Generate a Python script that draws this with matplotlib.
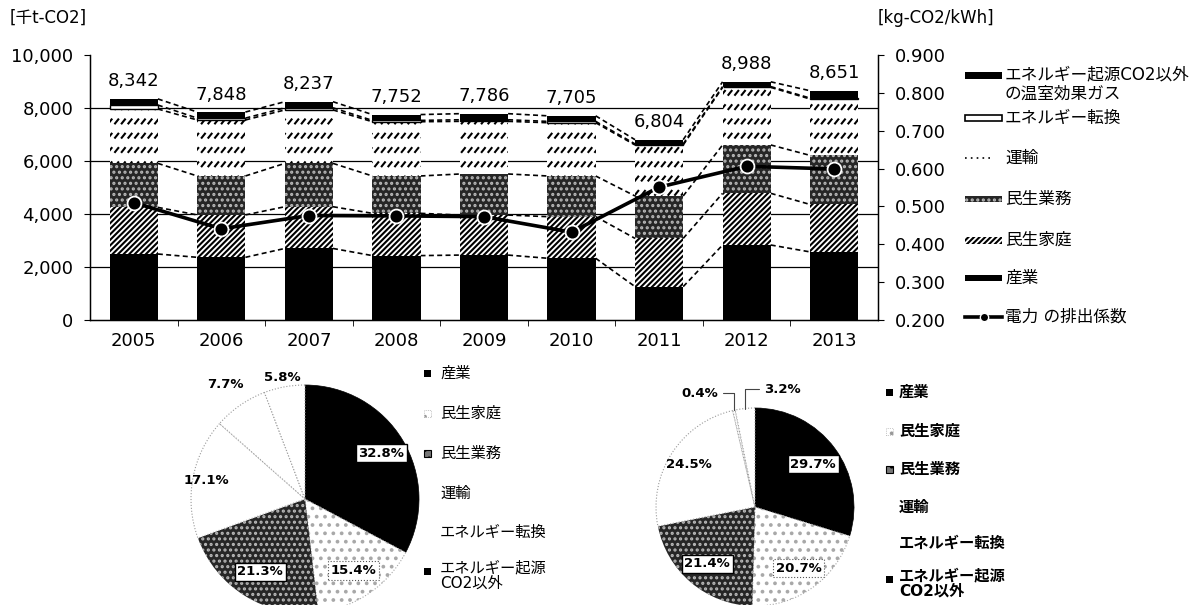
import numpy as np
import matplotlib
matplotlib.use('Agg')
import matplotlib.pyplot as plt
import matplotlib.hatch as mhatch
from matplotlib.path import Path
from matplotlib.patches import Rectangle
from matplotlib.lines import Line2D

plt.rcParams['font.family'] = ['DejaVu Sans', 'Noto Sans CJK JP']
plt.rcParams['hatch.linewidth'] = 1.5

# ---------------- data ----------------
years = ['2005', '2006', '2007', '2008', '2009', '2010', '2011', '2012', '2013']
industry = [2490, 2365, 2700, 2430, 2450, 2330, 1260, 2830, 2569]        # 産業
household = [1760, 1600, 1575, 1595, 1510, 1570, 1820, 1950, 1791]       # 民生家庭
business = [1660, 1470, 1635, 1410, 1550, 1535, 1600, 1825, 1851]        # 民生業務
transport = [2052, 2113, 2017, 2047, 1986, 2010, 1924, 2173, 2128]       # 運輸
energy_conv = [150, 70, 80, 50, 60, 50, 40, 30, 35]                      # エネルギー転換
non_energy = [230, 230, 230, 220, 230, 210, 160, 180, 277]               # CO2以外
totals = [8342, 7848, 8237, 7752, 7786, 7705, 6804, 8988, 8651]
emission_factor = [0.510, 0.441, 0.476, 0.475, 0.473, 0.432, 0.551, 0.606, 0.599]

series_names = ['産業', '民生家庭', '民生業務', '運輸', 'エネルギー転換',
                'エネルギー起源CO2以外\nの温室効果ガス']
line_name = '電力 の排出係数'
y_ticks = [0, 2000, 4000, 6000, 8000, 10000]
y2_ticks = [0.2, 0.3, 0.4, 0.5, 0.6, 0.7, 0.8, 0.9]
left_unit = '[千t-CO2]'
right_unit = '[kg-CO2/kWh]'

pie_names = ['産業', '民生家庭', '民生業務', '運輸', 'エネルギー転換', 'エネルギー起源\nCO2以外']
pie_left = [32.8, 15.4, 21.3, 17.1, 7.7, 5.8]
pie_right = [29.7, 20.7, 21.4, 24.5, 0.4, 3.2]


# ------------- custom hatch: rows of short slashes (for 運輸) -------------
class RowSlashes(mhatch.HatchPatternBase):
    def __init__(self, hatch, density):
        n = hatch.count('*')
        self.rows = 7 * n
        self.cols = 15
        self.num_vertices = self.rows * self.cols * 2

    def set_vertices_and_codes(self, vertices, codes):
        ys = (np.arange(self.rows) + 0.5) / self.rows
        xs = (np.arange(self.cols) + 0.5) / self.cols
        X, Y = np.meshgrid(xs, ys)
        X = X.ravel()
        Y = Y.ravel()
        vertices[0::2, 0] = X - 0.016
        vertices[0::2, 1] = Y - 0.02
        vertices[1::2, 0] = X + 0.016
        vertices[1::2, 1] = Y + 0.02
        codes[0::2] = Path.MOVETO
        codes[1::2] = Path.LINETO


try:
    idx = mhatch._hatch_types.index(mhatch.Stars)
    mhatch._hatch_types[idx] = RowSlashes
    TRANSPORT_HATCH = '*'
except Exception:
    TRANSPORT_HATCH = '/'

W, H = 1200, 605


def fx(p):
    return p / W


def fy(p):
    return 1 - p / H


fig = plt.figure(figsize=(12, 6.05), dpi=100)

# ---------------- bar chart ----------------
ax = fig.add_axes([fx(90), fy(320), fx(878) - fx(90), fy(55) - fy(320)])
x = np.arange(len(years))
w = 0.55

SPECKLE = dict(facecolor='#262626', edgecolor='#b8b8b8', hatch='...')
styles = [
    dict(facecolor='black', edgecolor='black', linewidth=0),
    dict(facecolor='white', edgecolor='black', hatch='//////', linewidth=0),
    dict(linewidth=0, **SPECKLE),
    dict(facecolor='white', edgecolor='black', hatch=TRANSPORT_HATCH, linewidth=0),
    dict(facecolor='white', edgecolor='black', linewidth=1.0),
    dict(facecolor='black', edgecolor='black', linewidth=0),
]
layers = [industry, household, business, transport, energy_conv, non_energy]

for v in y_ticks[1:-1]:
    ax.axhline(v, color='black', lw=0.9, zorder=1)

bottom = np.zeros(len(years))
tops = []
for vals, st in zip(layers, styles):
    ax.bar(x, vals, w, bottom=bottom, zorder=3, **st)
    bottom = bottom + np.array(vals)
    tops.append(bottom.copy())

for top in tops:
    for i in range(len(x) - 1):
        ax.plot([x[i] + w / 2, x[i + 1] - w / 2], [top[i], top[i + 1]],
                color='black', lw=1.2, ls=(0, (3, 2)), zorder=2)

for xi, t in zip(x, totals):
    ax.annotate(f'{t:,}', (xi, t), xytext=(0, 9), textcoords='offset points',
                ha='center', va='baseline', fontsize=13)

ax.set_xlim(-0.5, len(years) - 0.5)
ax.set_ylim(0, 10000)
ax.set_yticks(y_ticks)
ax.set_yticklabels([f'{v:,}' for v in y_ticks], fontsize=13)
ax.set_xticks(x)
ax.set_xticklabels(years, fontsize=13)
ax.set_xticks(x[:-1] + 0.5, minor=True)
ax.tick_params(axis='x', which='major', length=0, pad=9)
ax.tick_params(axis='x', which='minor', length=4, direction='out')
ax.tick_params(axis='y', length=4, direction='out', pad=8)
ax.spines['top'].set_visible(False)
for s in ['left', 'right', 'bottom']:
    ax.spines[s].set_linewidth(1.0)

ax2 = ax.twinx()
ax2.set_ylim(0.2, 0.9)
ax2.set_yticks(y2_ticks)
ax2.set_yticklabels([f'{v:.3f}' for v in y2_ticks], fontsize=13)
ax2.tick_params(axis='y', length=4, direction='out', pad=8)
ax2.spines['top'].set_visible(False)
ax2.plot(x, emission_factor, color='black', lw=2.6, marker='o', ms=10,
         mfc='black', mec='white', mew=1.3, zorder=5)

fig.text(fx(10), fy(18), left_unit, fontsize=12, va='center', ha='left')
fig.text(fx(878), fy(18), right_unit, fontsize=12, va='center', ha='left')

# ---------------- legend (right) ----------------
lx0, lx1, ltx = 965, 1002, 1005
legend_rows = [75, 118, 158, 199, 240, 278, 317]


def leg_rect(yc, h, **kw):
    r = Rectangle((fx(lx0), fy(yc + h / 2)), fx(lx1) - fx(lx0), fy(yc - h / 2) - fy(yc + h / 2),
                  transform=fig.transFigure, **kw)
    fig.add_artist(r)


for row, si in zip(legend_rows[:6], [5, 4, 3, 2, 1, 0]):
    if si == 3:
        fig.add_artist(Line2D([fx(lx0), fx(lx1 - 8)], [fy(row), fy(row)], color='black',
                              lw=1.2, ls=(0, (1, 2.5)), transform=fig.transFigure))
    elif si == 4:
        leg_rect(row, 6, facecolor='white', edgecolor='black', linewidth=1.2)
    elif si == 1:
        leg_rect(row, 7, facecolor='white', edgecolor='black', hatch='//////', linewidth=0)
    elif si == 2:
        leg_rect(row, 6, linewidth=0, **SPECKLE)
    else:
        leg_rect(row, 7, facecolor='black', edgecolor='black', linewidth=0)
    name = series_names[si]
    if '\n' in name:
        fig.text(fx(ltx), fy(row - 10), name, fontsize=12, va='top', ha='left', linespacing=1.15)
    else:
        fig.text(fx(ltx), fy(row), name, fontsize=12, va='center', ha='left')

yl = legend_rows[6]
fig.add_artist(Line2D([fx(lx0), fx(lx1)], [fy(yl), fy(yl)], color='black', lw=2.6,
                      transform=fig.transFigure))
fig.add_artist(Line2D([fx((lx0 + lx1) / 2)], [fy(yl)], color='black', marker='o', ms=6,
                      mfc='black', mec='white', mew=1.0, transform=fig.transFigure))
fig.text(fx(ltx), fy(yl), line_name, fontsize=12, va='center', ha='left')

# ---------------- pies ----------------
pie_styles = [
    dict(facecolor='black', edgecolor='black', linewidth=0.5),
    dict(facecolor='white', edgecolor='#a8a8a8', hatch='..', linewidth=0.8, linestyle=':'),
    dict(linewidth=0, **SPECKLE),
    dict(facecolor='white', edgecolor='#9a9a9a', linewidth=0.8, linestyle=':'),
    dict(facecolor='white', edgecolor='#9a9a9a', linewidth=0.8, linestyle=':'),
    dict(facecolor='white', edgecolor='#9a9a9a', linewidth=0.8, linestyle=':'),
]


def draw_pie(cx, cy, r, values, label_r, boxes, leaders):
    pax = fig.add_axes([fx(cx - r), fy(cy + r), fx(2 * r), fy(cy - r) - fy(cy + r)])
    wedges, _ = pax.pie(values, startangle=90, counterclock=False, radius=1.0)
    pax.set_xlim(-1, 1)
    pax.set_ylim(-1, 1)
    pax.axis('off')
    for wd, st in zip(wedges, pie_styles):
        wd.set(**st)
    for k, (wd, v) in enumerate(zip(wedges, values)):
        mid = np.deg2rad((wd.theta1 + wd.theta2) / 2)
        txt = f'{v:.1f}%'
        if leaders[k] is not None:
            pax.annotate(txt, (np.cos(mid), np.sin(mid)), xytext=leaders[k], textcoords='data',
                         ha='center', va='center', fontsize=9.5, fontweight='bold',
                         arrowprops=dict(arrowstyle='-', color='#444', lw=0.8,
                                         connectionstyle='angle,angleA=0,angleB=90,rad=0',
                                         shrinkA=2, shrinkB=0))
            continue
        rr = label_r[k]
        bb = None
        if boxes[k] == 'solid':
            bb = dict(boxstyle='square,pad=0.2', fc='white', ec='black', lw=1.0)
        elif boxes[k] == 'dotted':
            bb = dict(boxstyle='square,pad=0.2', fc='white', ec='#555', lw=0.8, ls=':')
        pax.text(rr * np.cos(mid), rr * np.sin(mid), txt, ha='center', va='center',
                 fontsize=9.5, fontweight='bold', bbox=bb)
    return pax


draw_pie(305, 499, 114, pie_left,
         [0.78, 0.76, 0.75, 0.88, 1.22, 1.08],
         ['solid', 'dotted', 'solid', None, None, None],
         [None] * 6)
draw_pie(755, 507, 99, pie_right,
         [0.73, 0.76, 0.75, 0.79, 1.1, 1.1],
         ['solid', 'dotted', 'solid', None, None, None],
         [None, None, None, None, (-0.56, 1.15), (0.28, 1.19)])

marker_styles = [
    dict(facecolor='black', edgecolor='black', linewidth=0),
    dict(facecolor='white', edgecolor='#999999', hatch='..', linewidth=0.5, linestyle=':'),
    dict(facecolor='#777777', edgecolor='black', hatch='..', linewidth=0.8),
    None,
    None,
    dict(facecolor='black', edgecolor='black', linewidth=0),
]


def pie_legend(mx, tx, rows, weight):
    for k, (row, name) in enumerate(zip(rows, pie_names)):
        ms = marker_styles[k]
        if ms is not None:
            s = 7
            fig.add_artist(Rectangle((fx(mx - s / 2), fy(row + s / 2)), fx(s), fy(0) - fy(s),
                                     transform=fig.transFigure, **ms))
        if '\n' in name:
            fig.text(fx(tx), fy(row - 11), name, fontsize=11, va='top', ha='left',
                     linespacing=1.05, fontweight=weight)
        else:
            fig.text(fx(tx), fy(row), name, fontsize=11, va='center', ha='left',
                     fontweight=weight)


pie_legend(427, 440, [373, 413, 453, 493, 532, 571], 'normal')
pie_legend(889, 899, [392, 431, 469, 507, 543, 579], 'bold')

fig.savefig('out.png', dpi=100)
